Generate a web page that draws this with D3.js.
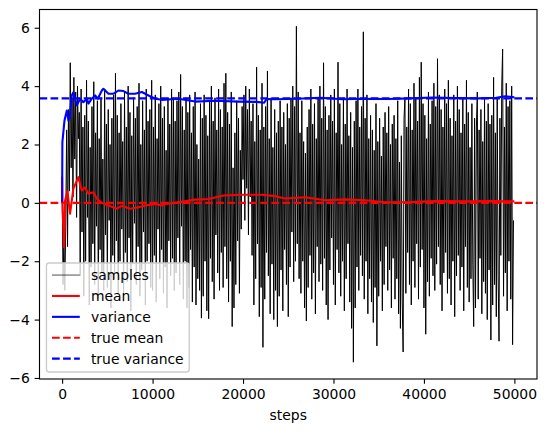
<!DOCTYPE html>
<html>
<head>
<meta charset="utf-8">
<script src="https://cdn.jsdelivr.net/npm/d3@7"></script>
<style>
  body { margin: 0; background: #fff; }
  svg { display: block; }
  text { font-family: "DejaVu Sans", sans-serif; font-size: 13.9px; fill: #000; }
</style>
</head>
<body>
<svg id="chart" width="546" height="432"></svg>
<script>
// samples, every 100 steps (row = 2000 steps)
const sampleStep = 100;
const samples = [
  0.9, -2.8, -1.2, -3.0, -0.8, 2.5, -1.5, 3.2, 0.4, 4.8, 1.2, 3.6, 0.2, 4.3, 1.5, 3.8, -0.5, 4.0, 2.2, 3.1,
  -2.5, 3.9, -1.0, 2.6, -3.2, 3.0, -2.0, 4.2, -0.5, 2.8, -3.5, 1.9, -2.2, 3.3, -1.4, 4.15, -2.8, 2.4, -0.8, 3.5,
  -3.3, 2.2, -1.6, 3.6, -2.4, 1.5, -3.0, 3.9, -1.1, 2.7, -2.9, 3.2, -0.6, 2.0, -3.6, 2.9, -1.8, 3.7, -2.6, 4.44,
  -1.3, 3.0, -3.1, 2.4, -2.0, 3.4, -0.9, 2.1, -3.4, 3.8, -1.7, 2.6, -2.7, 4.0, -1.2, 3.1, -3.7, 2.3, -2.1, 3.6,
  -0.7, 2.9, -2.8, 3.3, -1.5, 4.1, -3.2, 2.0, -2.3, 3.5, -1.0, 2.5, -3.5, 3.9, -2.0, 2.8, -1.4, 3.2, -2.9, 4.2,
  -3.0, 2.6, -1.8, 3.7, -3.4, 2.2, -0.9, 3.4, -2.6, 4.0, -1.6, 2.9, -3.1, 3.3, -2.2, 1.8, -3.6, 3.6, -1.3, 2.7,
  -2.5, 3.9, -1.9, 3.6, -3.0, 2.8, -2.4, 3.5, -1.2, 3.8, -2.8, 4.4, -0.8, 3.3, -3.3, 2.5, -2.0, 3.6, -3.6, 3.1,
  -2.9, 3.7, -1.6, 2.4, -3.4, 3.3, -2.2, 3.8, -3.5, 2.0, -2.6, 1.5, -3.0, 3.4, -3.95, 2.9, -3.2, 3.7, -2.0, 3.0,
  -3.7, 2.3, -3.97, 3.5, -1.9, 4.0, -2.7, 2.8, -3.3, 3.6, -1.1, 2.5, -2.4, 3.9, -3.0, 3.2, -1.7, 2.6, -2.9, 4.1,
  -1.5, 4.44, -2.6, 3.1, -3.4, 2.7, -2.0, 3.8, -4.24, 1.2, -3.6, 2.4, -2.8, 3.5, -1.3, 2.9, -3.1, 1.8, -0.9, 3.3,
  0.8, 3.7, -0.6, 4.0, 0.5, 3.2, -1.1, 3.9, 0.2, 2.8, -1.8, 3.4, -3.5, 2.1, -2.6, 4.65, -1.4, 3.0, -3.9, 2.5,
  -2.9, 4.1, -4.95, 2.6, -3.3, 3.3, -1.7, 4.52, -2.5, 2.2, -3.8, 3.6, -2.1, 1.9, -4.0, 3.2, -3.0, 2.4, -4.24, 2.8,
  -3.2, 3.5, -2.3, 2.6, -3.7, 3.1, -1.6, 2.0, -2.8, 3.4, -3.9, 2.9, -2.2, 3.6, -1.0, 4.0, -2.7, 3.3, -2.0, 6.05,
  -1.4, 3.8, -2.6, 2.4, -3.1, 3.5, -2.0, 2.1, -3.6, 1.7, -4.05, 2.6, -2.9, 3.2, -1.8, 3.9, -3.3, 2.7, -2.4, 3.4,
  -3.8, 2.2, -1.5, 3.6, -2.7, 4.0, -2.1, 2.9, -3.0, 4.8, -1.9, 3.3, -3.5, 2.5, -4.0, 3.0, -2.3, 3.7, -1.2, 2.8,
  -2.8, 3.9, -3.5, 2.4, -1.6, 4.82, -2.4, 3.4, -3.2, 2.0, -2.0, 3.6, -3.7, 2.7, -2.6, 3.9, -1.4, 2.3, -3.4, 3.1,
  -4.3, 1.9, -5.46, 2.8, -3.6, 3.5, -2.2, 3.9, -3.0, 2.6, -1.8, 3.3, -2.5, 5.86, -3.3, 2.9, -2.0, 3.7, -3.8, 2.2,
  -2.6, 3.0, -3.4, 2.5, -4.1, 1.8, -2.9, 3.4, -4.9, 2.1, -3.2, 2.9, -2.0, 1.6, -3.7, 2.6, -2.8, 3.1, -1.5, 2.4,
  -3.0, 3.3, -2.3, 2.0, -3.6, 2.7, -1.9, 3.0, -3.3, 2.2, -2.6, 3.5, -3.8, 1.4, -4.3, 2.3, -3.4, -5.11, 2.9, 3.6,
  -3.1, 2.6, -1.7, 3.9, -2.8, 3.4, -3.5, 2.5, -2.0, 4.1, -2.9, 3.6, -1.4, 2.8, -3.3, 4.3, -2.2, 4.82, -1.6, 3.4,
  -3.6, 3.0, -4.5, 2.2, -2.7, 3.8, -3.2, 2.7, -1.9, 3.5, -2.5, 4.1, -3.0, 3.3, -2.1, 4.94, -1.5, 3.7, -2.8, 3.2,
  -3.7, 2.6, -2.4, 3.9, -1.7, 3.4, -3.1, 4.2, -2.6, 2.9, -3.5, 2.3, -2.0, 3.7, -3.9, 2.8, -2.5, 4.0, -1.8, 3.2,
  -3.0, 2.4, -2.2, 3.6, -3.7, 2.7, -1.5, 4.2, -2.9, 3.1, -3.4, 1.9, -2.6, 3.4, -2.1, -4.24, 2.9, -3.6, 2.6, 3.8,
  -3.3, 2.5, -1.9, 3.2, -3.8, 2.1, -2.7, 3.6, -3.1, 2.8, -4.0, 3.4, -2.3, 2.7, -4.7, 3.0, -3.5, 4.3, -2.8, 2.4,
  -3.9, 3.6, -2.5, -4.74, 2.9, -1.8, 4.0, 5.27, -3.2, 2.6, -2.4, 4.1, -3.7, 3.3, -2.0, 3.5, -3.3, 4.0, -4.86, -0.6
];

// running mean
const meanSteps = [0, 50, 223, 328, 586, 882, 1245, 1800, 2172, 2545, 2908, 3462, 3835, 4389, 5125, 6052,
  6597, 7524, 8441, 9177, 10285, 11021, 11394, 12493, 14710, 16181, 17844, 19880, 22087, 23559, 24667,
  26875, 29092, 31299, 33516, 35724, 37941, 41256, 44935, 47500, 49999];
const meanValues = [0.9, -0.2, -1.52, 0.08, 0.4, -0.37, 0.49, 0.88, 0.42, 0.53, 0.31, 0.36, 0.14, 0, -0.09,
  -0.2, -0.1, -0.2, -0.15, -0.09, -0.04, -0.09, -0.04, 0, 0.11, 0.13, 0.25, 0.28, 0.28, 0.23, 0.15, 0.19,
  0.09, 0.12, 0.09, 0.02, 0.02, 0.06, 0.05, 0.06, 0.05];

// running variance
const varSteps = [0, 30, 261, 519, 701, 850, 1073, 1245, 1628, 1991, 2354, 2727, 2908, 3281, 3654, 3950,
  4389, 4571, 5125, 5689, 6224, 6778, 7333, 8068, 8814, 9550, 10285, 11021, 12865, 14710, 16917, 19497,
  21500, 22340, 22600, 23559, 26000, 28500, 31000, 33500, 36000, 38500, 41000, 43500, 46000, 48000, 49000, 49999];
const varValues = [0, 2.08, 2.82, 3.16, 2.82, 2.95, 3.68, 3.79, 3.34, 3.57, 3.45, 3.57, 3.4, 3.57, 3.68, 3.57,
  3.85, 3.91, 3.74, 3.74, 3.85, 3.83, 3.74, 3.74, 3.8, 3.68, 3.57, 3.53, 3.57, 3.47, 3.5, 3.47,
  3.46, 3.43, 3.56, 3.55, 3.57, 3.6, 3.55, 3.57, 3.56, 3.58, 3.61, 3.59, 3.58, 3.6, 3.65, 3.62];

const trueMean = 0;
const trueVariance = 3.58;

const xTicks = [0, 10000, 20000, 30000, 40000, 50000];
const yTicks = [-6, -4, -2, 0, 2, 4, 6];
const legendLabels = ["samples", "mean", "variance", "true mean", "true variance"];

const pt = 100 / 72;
const margin = {left: 39.5, right: 9, top: 9.5, bottom: 53};
const width = 546, height = 432;

const svg = d3.select("#chart");

const sampleData = samples.map((v, i) => [i * sampleStep, v]);
const meanData = meanSteps.map((s, i) => [s, meanValues[i]]);
const varData = varSteps.map((s, i) => [s, varValues[i]]);

// matplotlib style 5% margins
const xMax = d3.max(meanSteps);
const xPad = xMax * 0.05;
const yExt = d3.extent(samples);
const yPad = (yExt[1] - yExt[0]) * 0.05;

const x = d3.scaleLinear()
  .domain([-xPad, xMax + xPad])
  .range([margin.left, width - margin.right]);
const y = d3.scaleLinear()
  .domain([yExt[0] - yPad, yExt[1] + yPad])
  .range([height - margin.bottom, margin.top]);

svg.append("defs").append("clipPath")
  .attr("id", "plot-clip")
  .append("rect")
  .attr("x", x.range()[0])
  .attr("y", y.range()[1])
  .attr("width", x.range()[1] - x.range()[0])
  .attr("height", y.range()[0] - y.range()[1]);

let plot = svg.append("g").attr("clip-path", "url(#plot-clip)");

const line = d3.line().x(d => x(d[0])).y(d => y(d[1]));

// the real trace has ~100 points per pixel, so draw it a little heavier
plot.append("path")
  .datum(sampleData)
  .attr("d", line)
  .attr("fill", "none")
  .attr("stroke", "#000")
  .attr("stroke-width", 1.0)
  .attr("stroke-linejoin", "round");

plot.append("path")
  .datum(meanData)
  .attr("d", line)
  .attr("fill", "none")
  .attr("stroke", "#ff0000")
  .attr("stroke-width", 1.5 * pt)
  .attr("stroke-linejoin", "round");

plot.append("path")
  .datum(varData)
  .attr("d", line)
  .attr("fill", "none")
  .attr("stroke", "#0000ff")
  .attr("stroke-width", 1.5 * pt)
  .attr("stroke-linejoin", "round");

const dash = (3.7 * 1.5 * pt) + "," + (1.6 * 1.5 * pt);

plot.append("line")
  .attr("x1", x.range()[0]).attr("x2", x.range()[1])
  .attr("y1", y(trueMean)).attr("y2", y(trueMean))
  .attr("stroke", "#ff0000")
  .attr("stroke-width", 1.5 * pt)
  .attr("stroke-dasharray", dash);

plot.append("line")
  .attr("x1", x.range()[0]).attr("x2", x.range()[1])
  .attr("y1", y(trueVariance)).attr("y2", y(trueVariance))
  .attr("stroke", "#0000ff")
  .attr("stroke-width", 1.5 * pt)
  .attr("stroke-dasharray", dash);

// axes
const fmtMinus = d => (d < 0 ? "\u2212" + Math.abs(d) : String(d));

let xAxis = svg.append("g")
  .attr("transform", `translate(0,${y.range()[0]})`)
  .call(d3.axisBottom(x).tickValues(xTicks).tickFormat(d => String(d))
    .tickSize(3.5 * pt).tickPadding(3.5 * pt));

let yAxis = svg.append("g")
  .attr("transform", `translate(${x.range()[0]},0)`)
  .call(d3.axisLeft(y).tickValues(yTicks).tickFormat(fmtMinus)
    .tickSize(3.5 * pt).tickPadding(3.5 * pt));

[xAxis, yAxis].forEach(a => {
  a.select(".domain").remove();
  a.selectAll(".tick line").attr("stroke", "#000").attr("stroke-width", 0.8 * pt);
  a.selectAll(".tick text")
    .attr("fill", "#000")
    .style("font-family", '"DejaVu Sans", sans-serif')
    .style("font-size", "13.9px");
});

svg.append("rect")
  .attr("x", x.range()[0])
  .attr("y", y.range()[1])
  .attr("width", x.range()[1] - x.range()[0])
  .attr("height", y.range()[0] - y.range()[1])
  .attr("fill", "none")
  .attr("stroke", "#000")
  .attr("stroke-width", 0.8 * pt);

svg.append("text")
  .text("steps")
  .attr("x", (x.range()[0] + x.range()[1]) / 2)
  .attr("y", 420)
  .style("text-anchor", "middle");

// legend
const fs = 13.9;
const rowH = 20.9;
const lx = x.range()[0] + 0.5 * fs;
const lh = rowH * legendLabels.length + 4.5;
const ly = y.range()[0] - 0.5 * fs - lh;

let legend = svg.append("g");
let frame = legend.append("rect")
  .attr("x", lx).attr("y", ly)
  .attr("height", lh)
  .attr("rx", 0.2 * fs).attr("ry", 0.2 * fs)
  .attr("fill", "#fff").attr("fill-opacity", 0.8)
  .attr("stroke", "#cccccc").attr("stroke-width", 1 * pt);

const handles = [
  {color: "#000", w: 0.5 * pt, dash: null},
  {color: "#ff0000", w: 1.5 * pt, dash: null},
  {color: "#0000ff", w: 1.5 * pt, dash: null},
  {color: "#ff0000", w: 1.5 * pt, dash: dash},
  {color: "#0000ff", w: 1.5 * pt, dash: dash}
];

let maxText = 0;
legendLabels.forEach((label, i) => {
  const cy = ly + 12 + i * rowH;
  legend.append("line")
    .attr("x1", lx + 0.4 * fs).attr("x2", lx + 0.4 * fs + 2 * fs)
    .attr("y1", cy).attr("y2", cy)
    .attr("stroke", handles[i].color)
    .attr("stroke-width", handles[i].w)
    .attr("stroke-dasharray", handles[i].dash);
  let t = legend.append("text")
    .text(label)
    .attr("x", lx + 0.4 * fs + 2.8 * fs)
    .attr("y", cy)
    .attr("dy", "0.35em");
  maxText = Math.max(maxText, t.node().getComputedTextLength());
});

frame.attr("width", 0.4 * fs + 2.8 * fs + maxText + 0.4 * fs);
</script>
</body>
</html>
